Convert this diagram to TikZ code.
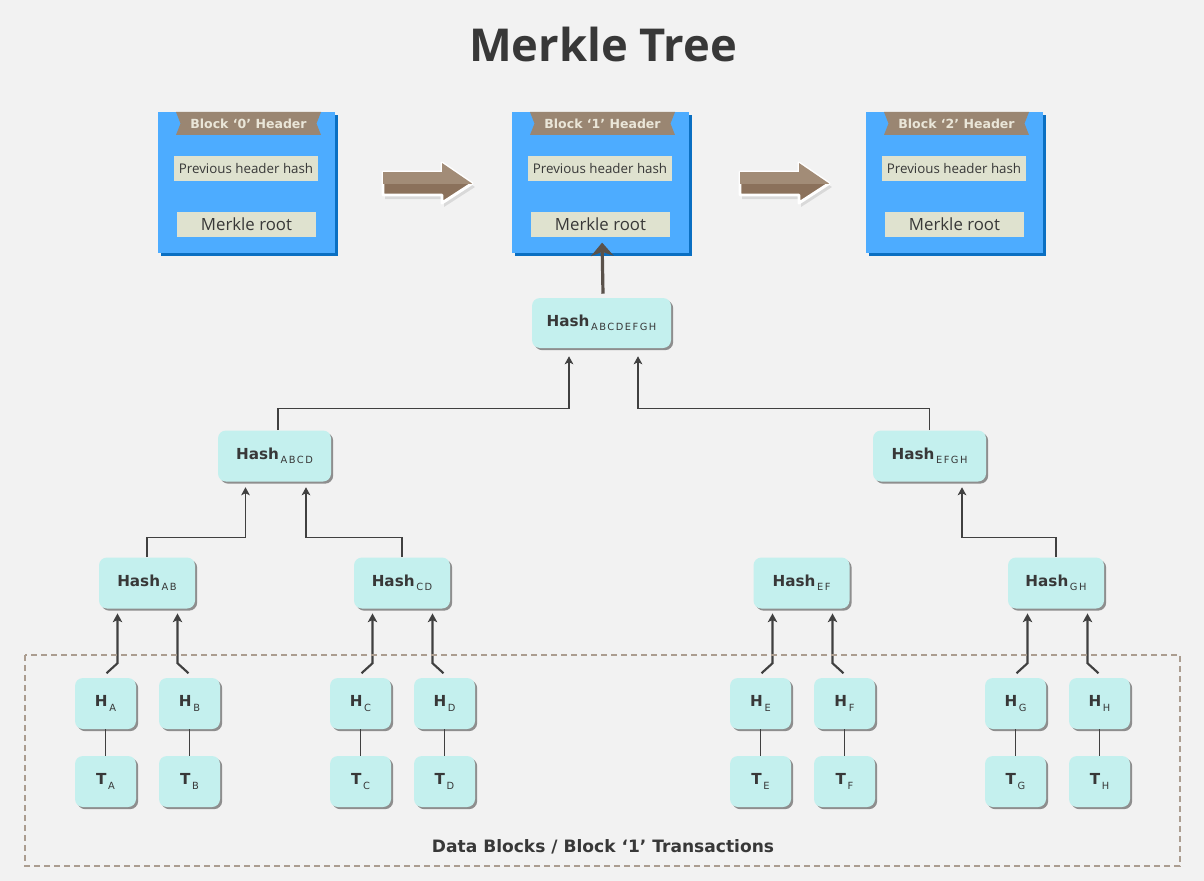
\documentclass[tikz,border=0pt]{standalone}
\usepackage{fontspec}
\setmainfont{Open Sans}
\newfontfamily\vfont{DejaVu Sans}
\newfontfamily\subfont[LetterSpace=15]{DejaVu Sans}
\usetikzlibrary{arrows.meta,shadows,calc}
\definecolor{bgc}{HTML}{F2F2F2}
\definecolor{bluec}{HTML}{4DACFF}
\definecolor{blueshadow}{HTML}{0A6FC2}
\definecolor{ribc}{HTML}{9A8672}
\definecolor{ribtxt}{HTML}{EAE6D8}
\definecolor{inc}{HTML}{DFE2CF}
\definecolor{txt}{HTML}{383838}
\definecolor{hashc}{HTML}{C4F0EE}
\definecolor{shc}{HTML}{8E8E8E}
\definecolor{linec}{HTML}{404040}
\definecolor{dashc}{HTML}{AB9D90}
\definecolor{arrtop}{HTML}{A28C77}
\definecolor{arrbot}{HTML}{8B715B}
\definecolor{bigline}{HTML}{5A524B}
\newcommand\hlab[2]{{\vfont\bfseries\fontsize{11.4pt}{12pt}\selectfont #1}\raisebox{-0.6ex}{\subfont\fontsize{7.4pt}{8pt}\selectfont\,#2}}
\tikzset{
  hbox/.style={rounded corners=6pt, fill=hashc, inner sep=0pt, text=txt,
    minimum height={51*0.75pt},
    drop shadow={shadow xshift=1.6pt, shadow yshift=-1.6pt, fill=shc, opacity=1}},
  leafbox/.style={hbox, minimum width={61*0.75pt}},
  midbox/.style={hbox, minimum width={96*0.75pt}},
  upbox/.style={hbox, minimum width={113*0.75pt}},
  topbox/.style={hbox, minimum width={139*0.75pt}, minimum height={50*0.75pt}},
  blockbox/.style={fill=bluec, inner sep=0pt, minimum width={177*0.75pt}, minimum height={141*0.75pt},
    drop shadow={shadow xshift=2.6pt, shadow yshift=-2.6pt, fill=blueshadow, opacity=1}},
  inbox/.style={fill=inc, inner sep=0pt, text=txt, minimum height={25*0.75pt}},
  conn/.style={draw=linec, line width=1.1pt},
  carr/.style={conn, -{Stealth[length=6pt,width=6.5pt,inset=1.5pt]}},
  larr/.style={draw=linec, line width=1.6pt, -{Stealth[length=6.5pt,width=7pt,inset=1.5pt]}, shorten >=3.5pt},
  bigarr/.style={draw=bigline, line width=2.4pt, -{Stealth[length=10pt,width=17pt,inset=3pt]}}
}
\begin{document}
\begin{tikzpicture}[x=0.75pt,y=-0.75pt]
\fill[bgc] (0,0) rectangle (1204,881);
\useasboundingbox (0,0) rectangle (1204,881);

% title
\node[text=txt, font=\bfseries\fontsize{34pt}{38pt}\selectfont] (title) at (603,45) {Merkle Tree};

% blocks
\foreach \i in {0,1,2} {
  \begin{scope}[shift={(\i*354,0)}]
    \node[blockbox] (B\i) at (246.5,182.5) {};
    \fill[ribc] (176,112) -- (321,112) -- (316.5,123.5) -- (321,135) -- (176,135) -- (180.5,123.5) -- cycle;
    \node[text=ribtxt, font=\vfont\bfseries\fontsize{9.4pt}{10pt}\selectfont] (BH\i) at (248.5,123.8) {Block ‘\i’ Header};
    \node[inbox, minimum width={144*0.75pt}, font=\fontsize{10pt}{11pt}\selectfont] (PH\i) at (246,168.5) {Previous header hash};
    \node[inbox, minimum width={139*0.75pt}, font=\fontsize{12.6pt}{13pt}\selectfont] (MR\i) at (246.5,224.5) {Merkle root};
  \end{scope}
}

% block arrows
\foreach \j in {0,1} {
  \begin{scope}[shift={(\j*357,0)}]
    \fill[black, opacity=0.10] (385,176) -- (444,176) -- (444,167) -- (475,187) -- (444,207) -- (444,199) -- (385,199) -- cycle;
    \draw[white, line width=2.2pt, line join=round, fill=arrbot] (383,172) -- (442,172) -- (442,163) -- (472,183.5) -- (442,203) -- (442,195) -- (383,195) -- cycle;
    \begin{scope}
      \clip (370,150) rectangle (480,183.5);
      \fill[arrtop] (383,172) -- (442,172) -- (442,163) -- (472,183.5) -- (442,203) -- (442,195) -- (383,195) -- cycle;
    \end{scope}
  \end{scope}
}

% hash nodes
\node[topbox] (HAll) at (601.5,323) {\hlab{Hash}{ABCDEFGH}};
\node[upbox] (HABCD) at (274.5,456) {\hlab{Hash}{ABCD}};
\node[upbox] (HEFGH) at (929.5,456) {\hlab{Hash}{EFGH}};
\node[midbox] (HAB) at (147,583) {\hlab{Hash}{AB}};
\node[midbox] (HCD) at (402,583) {\hlab{Hash}{CD}};
\node[midbox] (HEF) at (801.5,583) {\hlab{Hash}{EF}};
\node[midbox] (HGH) at (1056,583) {\hlab{Hash}{GH}};

% leaves
\foreach \n/\x in {A/105.5,B/189.5,C/360.5,D/444.5,E/760.5,F/844.5,G/1015.5,H/1099.5} {
  \node[leafbox] (H\n) at (\x,703.5) {\hlab{H}{\n}};
  \node[leafbox] (T\n) at (\x,781.5) {\hlab{T}{\n}};
  \draw[conn, line width=1.4pt] (H\n.south) -- (T\n.north);
}

% leaf to pair arrows
\foreach \l/\p/\s in {A/AB/1,B/AB/-1,C/CD/1,D/CD/-1,E/EF/1,F/EF/-1,G/GH/1,H/GH/-1} {
  \draw[larr] ($(H\l.north)+(\s*1,-4.5)$) -- ++(\s*11,-10) coordinate (k\l) -- (k\l |- H\p.south);
}

% pair to upper connectors
\draw[carr] (HAB.north) -- ++(0,-19.5) -| ($(HABCD.south)+(-29,5.5)$);
\draw[carr] (HCD.north) -- ++(0,-19.5) -| ($(HABCD.south)+(31.5,5.5)$);
\draw[carr] (HGH.north) -- ++(0,-19.5) -| ($(HEFGH.south)+(32.5,5.5)$);
\draw[carr] ($(HABCD.north)+(3.5,0)$) -- ++(0,-21.5) -| ($(HAll.south)+(-32.5,8)$);
\draw[carr] (HEFGH.north) -- ++(0,-21.5) -| ($(HAll.south)+(36.5,8)$);

% root to merkle root
\draw[bigarr, shorten >=4pt] ($(HAll.north)+(1.5,-4)$) -- ($(MR1.south)+(1.5,0)$);

% data blocks frame
\draw[dashc, line width=1pt, dash pattern=on 4.5pt off 3pt] (25,655) rectangle (1180,866);
\node[text=txt, font=\vfont\bfseries\fontsize{12.8pt}{14pt}\selectfont] (dlabel) at (603,847) {Data Blocks / Block ‘1’ Transactions};
\end{tikzpicture}
\end{document}
